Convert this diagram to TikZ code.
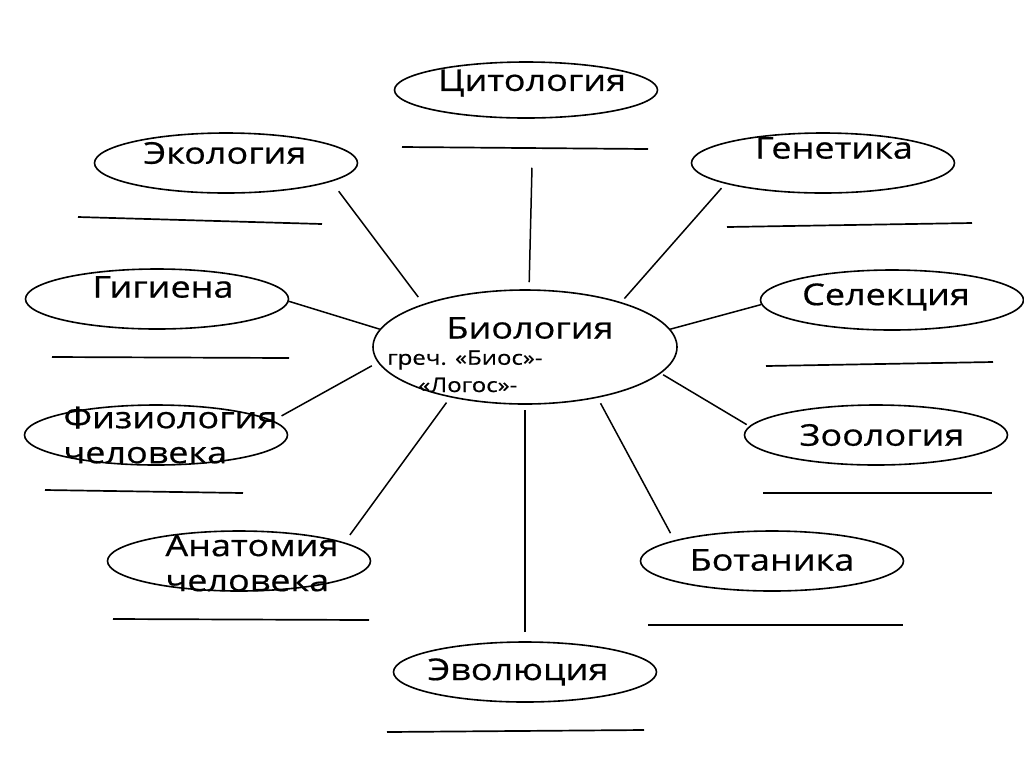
\documentclass[tikz,border=0pt]{standalone}
\usepackage{fontspec}
\setmainfont[FakeStretch=1.2,FakeBold=0.6]{Open Sans}
\usetikzlibrary{shapes.geometric}
\tikzset{
  oval/.style={draw,ellipse,line width=0.8pt,inner sep=0pt,minimum width=131.5pt,minimum height=30pt},
  word/.style={font=\fontsize{15}{17.5}\selectfont,inner sep=0pt,align=left},
  note/.style={font=\fontsize{10}{12}\selectfont,inner sep=0pt,anchor=west},
  spoke/.style={line width=0.75pt},
  blank/.style={line width=0.85pt}
}

\begin{document}
\begin{tikzpicture}[x=0.5pt,y=-0.5pt]
\useasboundingbox (0,0) rectangle (1024,768);
% ovals
\node[oval,minimum width=152pt,minimum height=57pt] (bio) at (525,347) {};
\node[oval,minimum height=28pt] (cyto) at (526,90) {};
\node[oval] (eco) at (226,163) {};
\node[oval] (gen) at (823,163) {};
\node[oval] (hyg) at (157,299) {};
\node[oval] (sel) at (892,300) {};
\node[oval] (phys) at (156,435) {};
\node[oval] (zoo) at (876,435) {};
\node[oval] (anat) at (239,561) {};
\node[oval] (bot) at (772,561) {};
\node[oval] (evo) at (525,672) {};
% texts
\node[word] (bioT) at (530,328) {Биология};
\node[note] (bioA) at (387,360) {греч. «Биос»-};
\node[note] (bioB) at (418,385) {«Логос»-};
\node[word] (cytoT) at (532,83) {Цитология};
\node[word] (ecoT) at (225,153) {Экология};
\node[word] (genT) at (834,148) {Генетика};
\node[word] (hygT) at (163,287) {Гигиена};
\node[word] (selT) at (886,297) {Селекция};
\node[word,anchor=west] (physT) at (63,435) {Физиология\\человека};
\node[word] (zooT) at (882,435) {Зоология};
\node[word,anchor=west] (anatT) at (165,563) {Анатомия\\человека};
\node[word] (botT) at (772,560) {Ботаника};
\node[word] (evoT) at (518,672) {Эволюция};
% spokes
\foreach \p/\q/\s/\t in {cyto.-76/bio.86.2/24.5/3.5, eco.-10.2/bio.157.4/6/4.25,
  gen.192.3/bio.25.1/2.9/2.35, hyg.-1.7/bio.173.4/0/0, sel.182.2/bio.7.4/0/0,
  phys.7.1/bio.186.2/4.9/3.4, zoo.176.2/bio.-11.8/1.5/1.3, bot.168.5/bio.-35.9/4/3.1,
  evo.north/bio.south/4.5/2.5, anat.10.2/bio.214.3/4.65/3.2}
  \draw[spoke,shorten <=\s pt,shorten >=\t pt] (\p) -- (\q);
% blank lines
\foreach \xa/\ya/\xb/\yb in {402/147/648/149, 78/217/322/224, 727/227/972/223, 52/357/289/358,
  766/366/993/362, 45/490/243/493, 763/493/992/493, 113/619/369/620,
  648/625/903/625, 387/732/644/730}
  \draw[blank] (\xa,\ya) -- (\xb,\yb);
\end{tikzpicture}
\end{document}
